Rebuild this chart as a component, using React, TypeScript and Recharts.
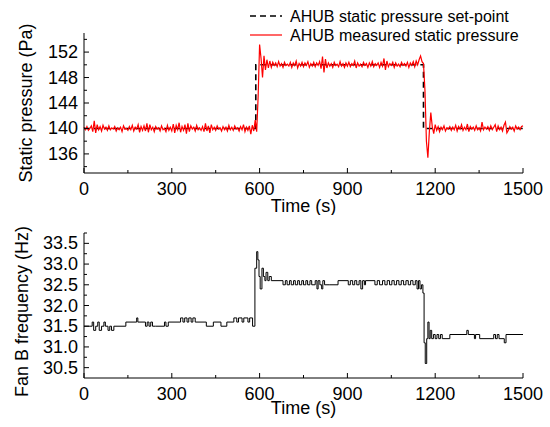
import React from 'react';
import { LineChart, Line, XAxis, YAxis, Label } from 'recharts';

// measured static pressure, one sample every 5 s from 0 to 1500 s
const sampleStep = 5;
const measuredPressure = [
  140.2, 139.8, 140.3, 139.7, 140.0, 140.4, 139.5, 141.2, 139.3, 140.6, 139.8, 140.3, 139.6, 140.5, 139.9, 140.2, 139.7, 140.4, 139.8, 140.1,
  139.9, 140.3, 139.6, 140.1, 139.8, 140.2, 139.5, 140.4, 139.9, 140.0, 139.7, 140.3, 139.8, 140.5, 139.6, 140.2, 139.9, 140.6, 139.4, 140.3,
  139.7, 140.4, 139.6, 140.8, 139.4, 140.6, 139.8, 140.2, 139.5, 140.3, 139.9, 140.1, 139.6, 140.4, 139.8, 140.0, 139.5, 140.5, 139.7, 140.2,
  139.6, 140.7, 139.3, 140.5, 139.8, 140.9, 139.4, 140.3, 139.7, 140.6, 139.2, 140.8, 139.5, 140.4, 139.9, 140.2, 139.6, 140.5, 139.8, 140.1,
  139.7, 140.3, 139.5, 140.8, 139.6, 140.4, 139.3, 140.6, 139.8, 140.2, 139.7, 140.4, 139.9, 140.1, 139.6, 140.3, 139.8, 140.2, 139.6, 140.5,
  139.8, 140.2, 139.7, 140.4, 139.9, 140.1, 139.6, 140.3, 139.8, 140.6, 139.5, 140.2, 139.7, 140.4, 139.1, 140.5, 139.6, 141.3, 139.5, 145.0,
  153.2, 151.0, 148.0, 151.4, 149.2, 150.8, 149.5, 150.6, 149.6, 150.4, 149.9, 150.3, 149.7, 150.5, 149.8, 150.2, 149.6, 150.4, 149.9, 150.1,
  149.8, 150.4, 149.6, 150.3, 149.9, 150.6, 149.5, 150.2, 149.8, 150.4, 149.7, 150.3, 149.9, 150.5, 149.6, 150.2, 149.8, 150.4, 149.7, 150.3,
  149.9, 150.5, 149.4, 151.3, 148.8, 150.9, 149.5, 150.3, 149.8, 150.2, 149.6, 150.4, 149.9, 150.1, 149.7, 150.5, 149.8, 150.2, 149.6, 150.3,
  149.8, 150.4, 149.7, 150.2, 149.9, 150.6, 149.5, 150.3, 149.8, 150.1, 149.7, 150.4, 149.9, 150.2, 149.6, 150.3, 149.8, 150.5, 149.7, 150.2,
  149.9, 150.3, 149.6, 150.4, 149.8, 151.0, 149.2, 150.6, 149.7, 150.2, 149.9, 150.4, 149.6, 150.3, 149.8, 150.1, 149.7, 150.4, 149.9, 150.2,
  149.8, 150.4, 149.6, 150.3, 149.9, 150.5, 149.7, 150.6, 150.0, 150.8, 151.4, 150.5, 150.2, 146.0, 138.0, 135.4, 139.5, 142.5, 140.3, 139.2,
  140.6, 139.7, 140.3, 139.5, 140.2, 139.8, 140.4, 139.6, 140.1, 139.9, 140.3, 139.7, 140.2, 139.8, 140.5, 139.6, 140.3, 139.9, 140.6, 139.7,
  140.2, 139.8, 140.7, 139.5, 140.3, 139.9, 140.2, 139.7, 140.4, 139.8, 140.1, 139.6, 141.0, 139.8, 140.2, 139.9, 140.3, 139.7, 140.4, 139.8,
  140.2, 140.6, 139.5, 140.4, 139.8, 140.2, 139.6, 140.5, 141.0, 139.3, 139.7, 140.3, 139.9, 140.2, 139.6, 140.4, 139.9, 140.2, 139.8, 140.3,
  140.4,
];

// set-point change points
const setpointTime = [0, 587, 587, 1160, 1160, 1500];
const setpointValue = [140, 140, 150, 150, 140, 140];

// fan frequency change points (held until the next one)
const freqTime = [
  0, 28, 33, 40, 47, 52, 60, 68, 73, 82, 88, 94, 102, 143, 180, 184, 210, 216, 222, 228, 234, 245,
  275, 280, 288, 330, 338, 344, 352, 358, 366, 372, 380, 418, 442, 468, 488, 512, 522, 528, 540, 546,
  560, 566, 576, 584, 590, 594, 598, 602, 608, 613, 618, 622, 628, 633, 640, 680, 688, 694, 702, 708,
  716, 722, 730, 736, 744, 750, 758, 764, 772, 778, 790, 796, 800, 806, 812, 816, 822, 840, 868, 903,
  910, 918, 925, 932, 940, 946, 952, 958, 962, 994, 1002, 1010, 1020, 1028, 1036, 1044, 1052, 1060,
  1068, 1076, 1084, 1092, 1100, 1108, 1116, 1124, 1132, 1138, 1143, 1148, 1153, 1158, 1162, 1166,
  1171, 1175, 1179, 1183, 1188, 1194, 1200, 1206, 1212, 1218, 1224, 1250, 1308, 1313, 1334, 1338,
  1352, 1400, 1406, 1412, 1418, 1436, 1442, 1500,
];
const freqValue = [
  31.5, 31.6, 31.4, 31.5, 31.6, 31.4, 31.5, 31.6, 31.5, 31.4, 31.5, 31.4, 31.5, 31.6, 31.7, 31.6, 31.5, 31.6, 31.5, 31.6, 31.5, 31.5,
  31.6, 31.5, 31.6, 31.7, 31.6, 31.7, 31.6, 31.7, 31.6, 31.7, 31.6, 31.5, 31.6, 31.5, 31.6, 31.7, 31.6, 31.7, 31.6, 31.7,
  31.6, 31.7, 31.5, 32.9, 33.3, 33.1, 32.7, 32.4, 32.9, 32.7, 32.6, 32.8, 32.6, 32.7, 32.6, 32.5, 32.6, 32.5, 32.6, 32.5,
  32.6, 32.5, 32.6, 32.5, 32.6, 32.5, 32.6, 32.5, 32.6, 32.5, 32.6, 32.4, 32.6, 32.5, 32.4, 32.6, 32.5, 32.5, 32.6, 32.5,
  32.6, 32.5, 32.6, 32.5, 32.6, 32.4, 32.6, 32.5, 32.6, 32.5, 32.6, 32.5, 32.6, 32.5, 32.6, 32.5, 32.6, 32.5,
  32.6, 32.5, 32.6, 32.5, 32.6, 32.5, 32.6, 32.5, 32.6, 32.4, 32.6, 32.4, 32.5, 32.3, 31.1, 30.6,
  31.2, 31.6, 31.2, 31.4, 31.2, 31.3, 31.2, 31.3, 31.2, 31.3, 31.2, 31.3, 31.4, 31.3, 31.2, 31.3,
  31.2, 31.3, 31.2, 31.3, 31.2, 31.1, 31.3, 31.3,
];

const timeTicks = [0, 150, 300, 450, 600, 750, 900, 1050, 1200, 1350, 1500];
const timeMajor = [0, 300, 600, 900, 1200, 1500];
const pressureTicks = [134, 136, 138, 140, 142, 144, 146, 148, 150, 152, 154];
const pressureMajor = [136, 140, 144, 148, 152];
const freqTicks = [30.5, 30.75, 31, 31.25, 31.5, 31.75, 32, 32.25, 32.5, 32.75, 33, 33.25, 33.5, 33.75];
const freqMajor = [30.5, 31, 31.5, 32, 32.5, 33, 33.5];

const pressureData = measuredPressure.map((p, i) => ({ t: i * sampleStep, p }));
const setpointData = setpointTime.map((t, i) => ({ t, sp: setpointValue[i] }));
const freqData = freqTime.map((t, i) => ({ t, f: freqValue[i] }));

const FONT = '"Liberation Sans", Arial, sans-serif';

const makeXTick = (majors: number[]) => (props: any) => {
  const { x, y, payload } = props;
  const major = majors.includes(payload.value);
  return (
    <g>
      <line x1={x} x2={x} y1={y} y2={y - (major ? 5 : 3)} stroke="#000" strokeWidth={1} />
      {major && (
        <text x={x} y={y + 16} textAnchor="middle" dominantBaseline="central" fontSize={18} fontFamily={FONT} fill="#000">
          {payload.value}
        </text>
      )}
    </g>
  );
};

const makeYTick = (majors: number[], digits: number) => (props: any) => {
  const { x, y, payload } = props;
  const major = majors.includes(payload.value);
  return (
    <g>
      <line x1={x} x2={x + (major ? 5 : 3)} y1={y} y2={y} stroke="#000" strokeWidth={1} />
      {major && (
        <text x={x - 6} y={y} textAnchor="end" dominantBaseline="central" fontSize={18} fontFamily={FONT} fill="#000">
          {payload.value.toFixed(digits)}
        </text>
      )}
    </g>
  );
};

const xTitle = (dy: number) => (props: any) => {
  const vb = props.viewBox || {};
  return (
    <text x={vb.x + vb.width / 2} y={vb.y + dy} textAnchor="middle" dominantBaseline="central" fontSize={18} fontFamily={FONT} fill="#000">
      Time (s)
    </text>
  );
};

const yTitle = (text: string, cx: number, dy: number) => (props: any) => {
  const vb = props.viewBox || {};
  const cy = vb.y + vb.height / 2 + dy;
  return (
    <text x={cx} y={cy} transform={`rotate(-90 ${cx} ${cy})`} textAnchor="middle" dominantBaseline="central" fontSize={18} fontFamily={FONT} fill="#000">
      {text}
    </text>
  );
};

const App: React.FC = () => {
  return (
    <div style={{ position: 'absolute', left: 0, top: 0, width: 550, height: 427, background: '#fff', fontFamily: FONT }}>
      <div style={{ position: 'absolute', left: 0, top: 0 }}>
        <LineChart width={550} height={215} margin={{ top: 33, right: 27, left: 0, bottom: 0 }}>
          <XAxis
            type="number"
            dataKey="t"
            domain={[0, 1500]}
            ticks={timeTicks}
            interval={0}
            tickSize={0}
            tickMargin={0}
            height={42}
            stroke="#000"
            tick={makeXTick(timeMajor)}
            allowDuplicatedCategory={false}
          >
            <Label content={xTitle(33)} />
          </XAxis>
          <YAxis
            type="number"
            domain={[133, 155]}
            ticks={pressureTicks}
            interval={0}
            tickSize={0}
            tickMargin={0}
            width={84}
            stroke="#000"
            tick={makeYTick(pressureMajor, 0)}
          >
            <Label content={yTitle('Static pressure (Pa)', 26, 0)} />
          </YAxis>
          <Line
            data={setpointData}
            dataKey="sp"
            type="linear"
            stroke="#000"
            strokeWidth={1.6}
            strokeDasharray="6 4"
            dot={false}
            isAnimationActive={false}
          />
          <Line
            data={pressureData}
            dataKey="p"
            type="linear"
            stroke="#ff0000"
            strokeWidth={1.2}
            dot={false}
            isAnimationActive={false}
          />
        </LineChart>
      </div>
      <div style={{ position: 'absolute', left: 0, top: 215 }}>
        <LineChart width={550} height={212} margin={{ top: 18, right: 27, left: 0, bottom: 0 }}>
          <XAxis
            type="number"
            dataKey="t"
            domain={[0, 1500]}
            ticks={timeTicks}
            interval={0}
            tickSize={0}
            tickMargin={0}
            height={49}
            stroke="#000"
            tick={makeXTick(timeMajor)}
          >
            <Label content={xTitle(30)} />
          </XAxis>
          <YAxis
            type="number"
            domain={[30.25, 33.75]}
            ticks={freqTicks}
            interval={0}
            tickSize={0}
            tickMargin={0}
            width={84}
            stroke="#000"
            tick={makeYTick(freqMajor, 1)}
          >
            <Label content={yTitle('Fan B frequency (Hz)', 22, 6)} />
          </YAxis>
          <Line
            data={freqData}
            dataKey="f"
            type="stepAfter"
            stroke="#000"
            strokeWidth={1}
            dot={false}
            isAnimationActive={false}
          />
        </LineChart>
      </div>
      <svg width={300} height={45} style={{ position: 'absolute', left: 240, top: 0 }}>
        <line x1={10} x2={42} y1={16} y2={16} stroke="#000" strokeWidth={1.6} strokeDasharray="6 4" />
        <text x={50} y={16} dominantBaseline="central" fontSize={16} fontFamily={FONT} fill="#000">
          AHUB static pressure set-point
        </text>
        <line x1={10} x2={42} y1={35} y2={35} stroke="#ff0000" strokeWidth={1.2} />
        <text x={50} y={35} dominantBaseline="central" fontSize={16} fontFamily={FONT} fill="#000">
          AHUB measured static pressure
        </text>
      </svg>
    </div>
  );
};

export default App;
